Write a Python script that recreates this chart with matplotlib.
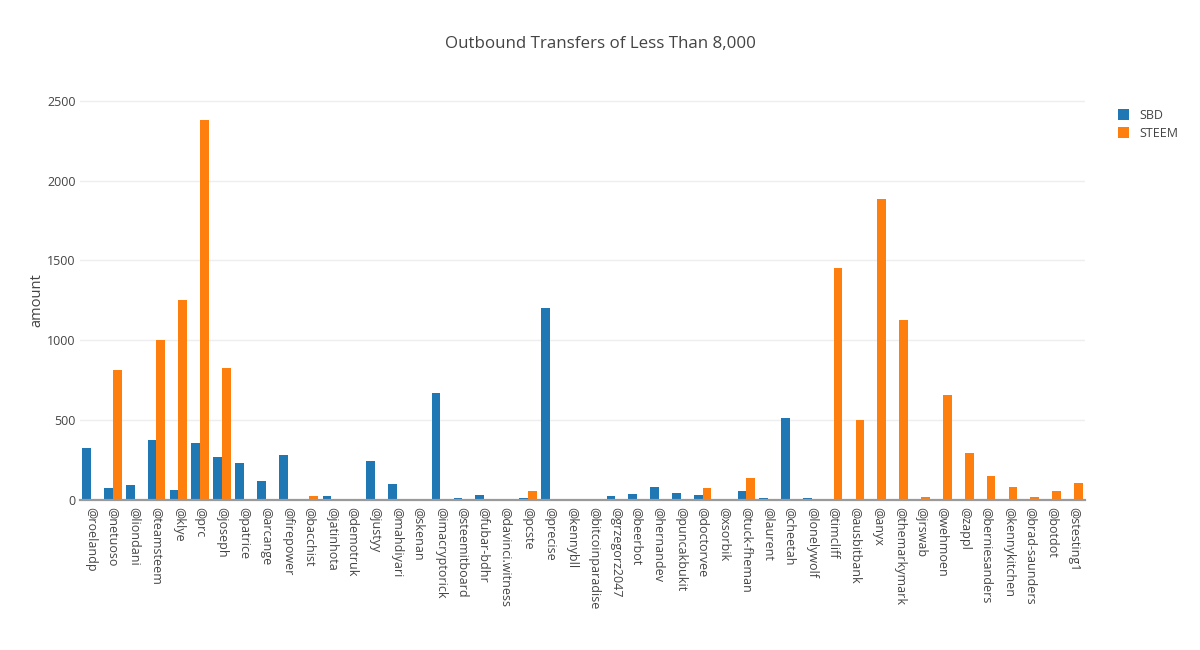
import matplotlib.pyplot as plt
import numpy as np

plt.rcParams['font.family'] = ['Open Sans', 'DejaVu Sans']

accounts = ['@roelandp', '@netuoso', '@liondani', '@teamsteem', '@klye', '@prc',
            '@joseph', '@patrice', '@arcange', '@firepower', '@bacchist',
            '@jatinhota', '@demotruk', '@justyy', '@mahdiyari', '@skenan',
            '@imacryptorick', '@steemitboard', '@fubar-bdhr', '@davinci.witness',
            '@pcste', '@precise', '@kennybll', '@bitcoinparadise', '@grzegorz2047',
            '@beerbot', '@hernandev', '@puncakbukit', '@doctorvee', '@xsorbik',
            '@tuck-fheman', '@laurent', '@cheetah', '@lonelywolf', '@timcliff',
            '@ausbitbank', '@anyx', '@themarkymark', '@jrswab', '@wehmoen',
            '@zappl', '@berniesanders', '@kennykitchen', '@brad-saunders',
            '@botdot', '@stesting1']

sbd = [323, 73, 92, 375, 62, 356,
       269, 231, 117, 281, 2,
       27, 3, 242, 100, 6,
       673, 12, 29, 4,
       12, 1200, 3, 2, 25,
       37, 81, 44, 31, 0,
       58, 12, 512, 12, 0,
       0, 0, 0, 0, 0,
       0, 0, 0, 0,
       0, 0]

steem = [0, 812, 0, 1000, 1250, 2380,
         829, 0, 0, 0, 25,
         0, 3, 0, 0, 0,
         0, 0, 0, 0,
         58, 0, 0, 0, 0,
         0, 2, 0, 75, 0,
         137, 0, 0, 0, 1450,
         500, 1887, 1125, 19, 656,
         292, 148, 81, 17,
         56, 106]

text_col = '#444444'
fig = plt.figure(figsize=(12, 6.5), dpi=100)
ax = fig.add_axes([80 / 1200, 150 / 650, 1005 / 1200, 400 / 650])

x = np.arange(len(accounts))
w = 0.4
ax.bar(x - w / 2, sbd, w, color='#1f77b4', label='SBD', zorder=3)
ax.bar(x + w / 2, steem, w, color='#ff7f0e', label='STEEM', zorder=3)

ax.set_xlim(-0.5, len(accounts) - 0.5)
ax.set_ylim(0, 2505)
ax.set_yticks([0, 500, 1000, 1500, 2000, 2500])
ax.set_xticks(x)
ax.set_xticklabels(accounts, rotation=-90, fontsize=9, color=text_col)
ax.tick_params(axis='y', labelsize=9, labelcolor=text_col, length=0, pad=3)
ax.tick_params(axis='x', length=0, pad=5)
ax.grid(axis='y', color='#eeeeee', linewidth=1, zorder=0)
for s in ['top', 'right', 'left']:
    ax.spines[s].set_visible(False)
ax.spines['bottom'].set_color('#9a9a9a')
ax.spines['bottom'].set_linewidth(1.6)
ax.spines['bottom'].set_zorder(4)

ax.set_ylabel('amount', fontsize=10.5, color=text_col, labelpad=2)
fig.text(0.5, 0.932, 'Outbound Transfers of Less Than 8,000', ha='center',
         va='center', fontsize=12.2, color=text_col)

leg = fig.legend(loc='upper left', bbox_to_anchor=(0.922, 0.85), frameon=False,
                 fontsize=9, handlelength=0.9, handleheight=0.9, labelspacing=0.4)
for t in leg.get_texts():
    t.set_color(text_col)

fig.savefig('out.png', dpi=100)
